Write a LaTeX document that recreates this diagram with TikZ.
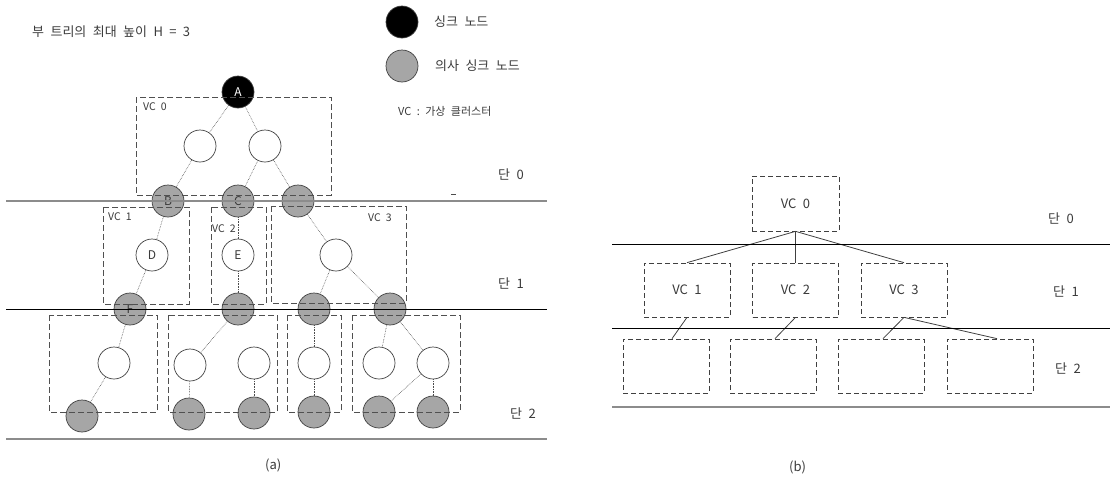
\documentclass[tikz,border=0pt]{standalone}
\usepackage{fontspec}
\newfontfamily\kr[WordSpace=2.2]{Noto Sans CJK KR}
\usepackage{tikz}
\usetikzlibrary{positioning}
\definecolor{sinkgray}{HTML}{A6A6A6}
\definecolor{linegray}{HTML}{8C8C8C}
\definecolor{boxgray}{HTML}{505050}
\definecolor{txtgray}{HTML}{3A3A3A}

\begin{document}
\begin{tikzpicture}[x=1pt,y=-1pt,
  sensor/.style={circle, draw=black!75, line width=0.7pt, minimum size=32pt, inner sep=0pt, fill=white, text=txtgray, font=\kr\fontsize{12}{12}\selectfont},
  sink/.style={sensor, fill=black, text=white},
  psink/.style={sensor, fill=sinkgray},
  link/.style={densely dotted, draw=black!70, line width=0.6pt},
  vcbox/.style={draw=boxgray, line width=1pt, dash pattern=on 6pt off 3pt},
  vcnode/.style={draw=black!75, line width=0.7pt, dash pattern=on 5pt off 3pt, minimum width=86pt, minimum height=54pt, inner sep=0pt, text=txtgray, font=\kr\fontsize{13}{13}\selectfont},
  lbl/.style={anchor=west, inner sep=0pt, text=txtgray, font=\kr\fontsize{13}{13}\selectfont},
  vclbl/.style={anchor=west, inner sep=0pt, text=txtgray, font=\kr\fontsize{10.5}{10.5}\selectfont}]
  \useasboundingbox (0,0) rectangle (1110,493);

  % Legend and title
  \node[lbl] (title) at (32,32) {부 트리의 최대 높이 H = 3};
  \node[sink] (legsink) at (402,22) {};
  \node[psink] (legpsink) at (402,66) {};
  \node[lbl] (legsinktxt) at (434,22) {싱크 노드};
  \node[lbl] (legpsinktxt) at (435,66) {의사 싱크 노드};
  \node[vclbl, font=\kr\fontsize{11}{11}\selectfont] (legvc) at (398,111) {VC : 가상 클러스터};

  % (a) level 0
  \node[sink] (A) at (238,92) {A};
  \node[sensor] (n1) at (200,146) {};
  \node[sensor] (n2) at (265,146) {};
  \node[psink] (B) at (168,201) {B};
  \node[psink] (C) at (238,201) {C};
  \node[psink] (G) at (298,201) {};
  % (a) level 1
  \node[sensor] (D) at (152,255) {D};
  \node[sensor] (E) at (238,255) {E};
  \node[sensor] (n3) at (336,255) {};
  \node[psink] (F) at (130,309) {F};
  \node[psink] (p2) at (238,309) {};
  \node[psink] (p3) at (314,309) {};
  \node[psink] (p4) at (390,309) {};
  % (a) level 2
  \node[sensor] (w1) at (114,363) {};
  \node[sensor] (w2) at (190,365) {};
  \node[sensor] (w3) at (254,363) {};
  \node[sensor] (w4) at (314,363) {};
  \node[sensor] (w5) at (379,363) {};
  \node[sensor] (w6) at (433,363) {};
  \node[psink] (q1) at (82,416) {};
  \node[psink] (q2) at (189,414) {};
  \node[psink] (q3) at (254,413) {};
  \node[psink] (q4) at (314,412) {};
  \node[psink] (q5) at (379,412) {};
  \node[psink] (q6) at (433,412) {};

  % Tree links
  \draw[link] (A) -- (n1); \draw[link] (A) -- (n2);
  \draw[link] (n1) -- (B); \draw[link] (n2) -- (C); \draw[link] (n2) -- (G);
  \draw[link] (B) -- (D); \draw[link] (D) -- (F);
  \draw[link] (C) -- (E); \draw[link] (E) -- (p2);
  \draw[link] (G) -- (n3); \draw[link] (n3) -- (p3); \draw[link] (n3) -- (p4);
  \draw[link] (F) -- (w1); \draw[link] (w1) -- (q1);
  \draw[link] (p2) -- (w2); \draw[link] (w2) -- (q2); \draw[link] (w3) -- (q3);
  \draw[link] (p3) -- (w4); \draw[link] (w4) -- (q4);
  \draw[link] (p4) -- (w5); \draw[link] (p4) -- (w6);
  \draw[link] (w6) -- (q5); \draw[link] (w6) -- (q6);

  % Level separators (a)
  \draw[linegray, line width=1.4pt] (6,201) -- (547,201);
  \draw[black, line width=0.8pt] (6,309) -- (547,309);
  \draw[linegray, line width=1.4pt] (6,439) -- (547,439);
  \draw[black!70, line width=0.8pt] (451,194) -- (456,194);

  % Virtual clusters (a)
  \draw[vcbox] (136,97) rectangle (331,195);
  \draw[vcbox] (103,207) rectangle (189,304);
  \draw[vcbox] (211,207) rectangle (266,304);
  \draw[vcbox] (271,206) rectangle (406,303);
  \draw[vcbox] (49,315) rectangle (157,412);
  \draw[vcbox] (168,315) rectangle (277,412);
  \draw[vcbox] (287,315) rectangle (341,412);
  \draw[vcbox] (352,315) rectangle (460,412);
  \node[vclbl] (vc0a) at (143,107) {VC 0};
  \node[vclbl] (vc1a) at (108,217) {VC 1};
  \node[vclbl] (vc2a) at (212,229) {VC 2};
  \node[vclbl] (vc3a) at (368,218) {VC 3};
  \node[lbl] (lv0a) at (498,174) {단 0};
  \node[lbl] (lv1a) at (498,283) {단 1};
  \node[lbl] (lv2a) at (510,413) {단 2};
  \node[lbl] (capa) at (265,465) {(a)};

  % (b) cluster tree
  \node[vcnode, minimum width=87pt, minimum height=55pt] (vc0) at (795.5,203.5) {VC 0};
  \node[vcnode] (vc1) at (687,290) {VC 1};
  \node[vcnode] (vc2) at (795.5,290) {VC 2};
  \node[vcnode] (vc3) at (904,290) {VC 3};
  \node[vcnode] (s1) at (666,366) {};
  \node[vcnode] (s2) at (773,366) {};
  \node[vcnode] (s3) at (881,366) {};
  \node[vcnode] (s4) at (990,366) {};
  \draw[black!75, line width=0.8pt] (vc0.south) -- (vc1.north);
  \draw[black!75, line width=0.8pt] (vc0.south) -- (vc2.north);
  \draw[black!75, line width=0.8pt] (vc0.south) -- (vc3.north);
  \draw[black!75, line width=0.8pt] (vc1.south) -- ([xshift=6pt]s1.north);
  \draw[black!75, line width=0.8pt] (vc2.south) -- ([xshift=2pt]s2.north);
  \draw[black!75, line width=0.8pt] (vc3.south) -- ([xshift=2pt]s3.north);
  \draw[black!75, line width=0.8pt] (vc3.south) -- ([xshift=7pt]s4.north);
  \draw[black, line width=0.8pt] (612,244) -- (1110,244);
  \draw[black, line width=0.8pt] (612,328) -- (1110,328);
  \draw[linegray, line width=1.4pt] (612,407) -- (1110,407);
  \node[lbl] (lv0b) at (1048,218) {단 0};
  \node[lbl] (lv1b) at (1053,291) {단 1};
  \node[lbl] (lv2b) at (1055,368) {단 2};
  \node[lbl] (capb) at (789,467) {(b)};
\end{tikzpicture}
\end{document}
